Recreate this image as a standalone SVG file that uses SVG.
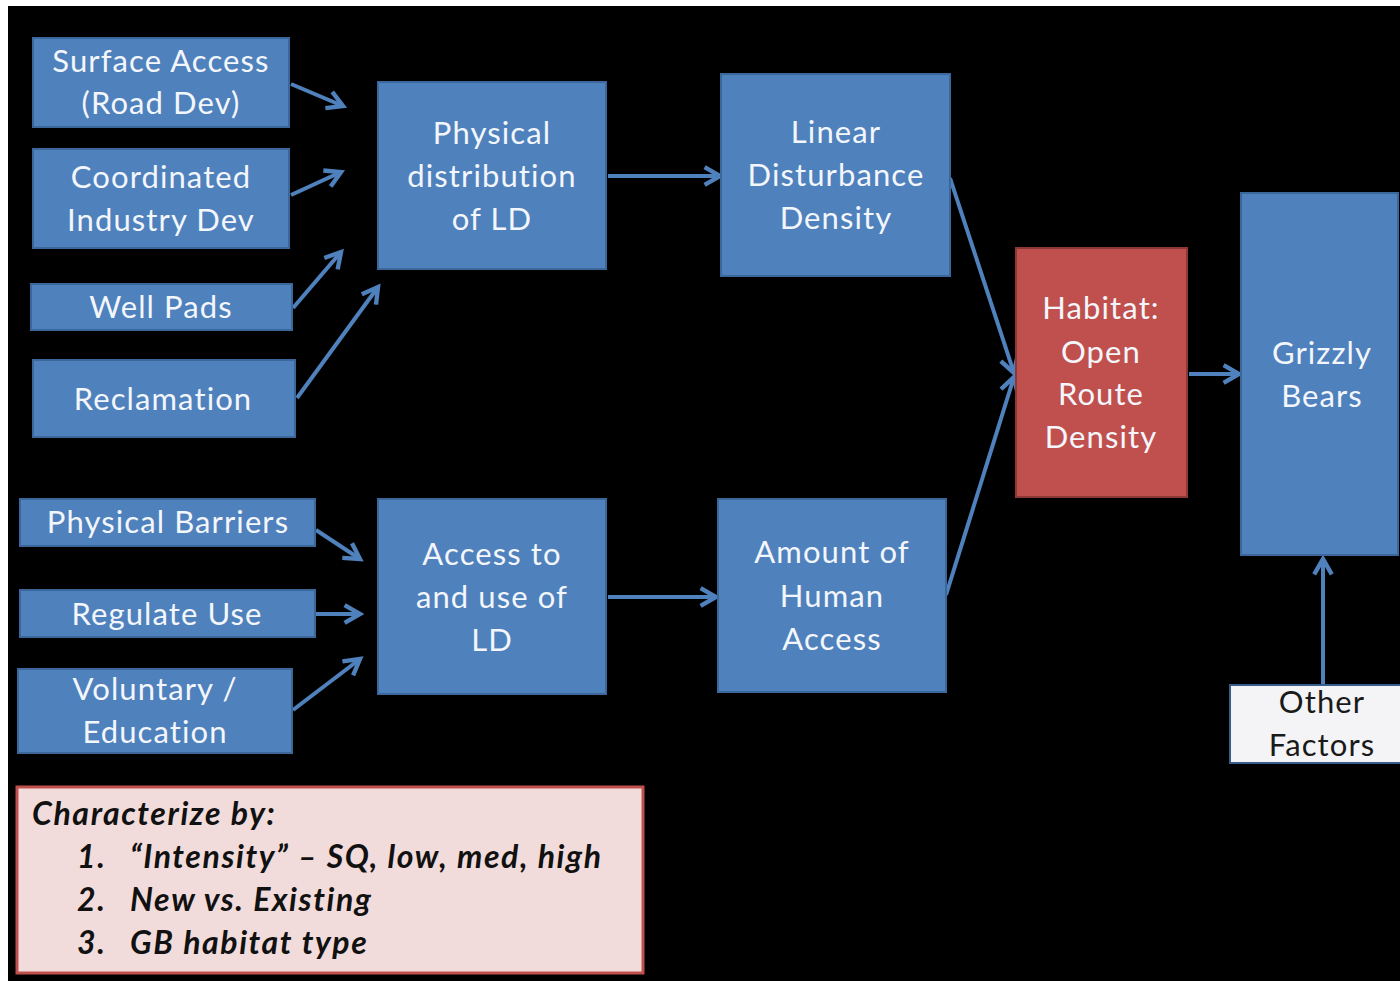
<svg xmlns="http://www.w3.org/2000/svg" width="1400" height="981" viewBox="0 0 1400 981">
<defs>
<style>
.b{fill:#4f81bd;stroke:#3c679a;stroke-width:2}
.r{fill:#c0504d;stroke:#8c3836;stroke-width:2}
.w{fill:#f4f4f6;stroke:#385d8a;stroke-width:2}
.t{font-family:Lato,"Liberation Sans",sans-serif;font-size:31px;letter-spacing:1.1px;fill:#f3f6fb;text-anchor:middle}
.d{fill:#1a1a1a}
.c{font-family:Lato,"Liberation Sans",sans-serif;font-size:32px;letter-spacing:1.6px;font-weight:bold;font-style:italic;fill:#111}
.a{stroke:#4f81bd;stroke-width:4;fill:none;marker-end:url(#ah)}
</style>
<marker id="ah" viewBox="0 0 10 10" refX="8" refY="5" markerWidth="5.5" markerHeight="5.5" orient="auto" markerUnits="strokeWidth">
<path d="M1,1 L8,5 L1,9" fill="none" stroke="#4f81bd" stroke-width="2"/>
</marker>
</defs>
<rect x="0" y="0" width="1400" height="981" fill="#ffffff"/>
<rect x="8" y="6" width="1392" height="975" fill="#000000"/>

<g id="connectors">
<line class="a" x1="291" y1="84" x2="343" y2="106"/>
<line class="a" x1="291" y1="195" x2="341" y2="172"/>
<line class="a" x1="293" y1="308" x2="341" y2="252"/>
<line class="a" x1="297" y1="398" x2="378" y2="287"/>
<line class="a" x1="608" y1="176" x2="720" y2="176"/>
<line class="a" x1="950" y1="178" x2="1014" y2="373"/>
<line class="a" x1="946" y1="595" x2="1014" y2="377"/>
<line class="a" x1="1189" y1="374" x2="1239" y2="374"/>
<line class="a" x1="1323" y1="685" x2="1323" y2="559"/>
<line class="a" x1="316" y1="530" x2="360" y2="559"/>
<line class="a" x1="316" y1="614" x2="360" y2="614"/>
<line class="a" x1="293" y1="710" x2="360" y2="659"/>
<line class="a" x1="608" y1="597" x2="716" y2="597"/>
</g>

<g id="surface-access"><rect class="b" x="33" y="38" width="256" height="89"/>
<text class="t" x="161" y="72">Surface Access</text><text class="t" x="161" y="114">(Road Dev)</text></g>

<g id="coordinated-industry"><rect class="b" x="33" y="149" width="256" height="99"/>
<text class="t" x="161" y="188">Coordinated</text><text class="t" x="161" y="231">Industry Dev</text></g>

<g id="well-pads"><rect class="b" x="31" y="284" width="261" height="46"/>
<text class="t" x="161" y="318">Well Pads</text></g>

<g id="reclamation"><rect class="b" x="33" y="360" width="262" height="77"/>
<text class="t" x="163" y="410">Reclamation</text></g>

<g id="physical-distribution"><rect class="b" x="378" y="82" width="228" height="187"/>
<text class="t" x="492" y="144">Physical</text><text class="t" x="492" y="187">distribution</text><text class="t" x="492" y="230">of LD</text></g>

<g id="linear-disturbance"><rect class="b" x="721" y="74" width="229" height="202"/>
<text class="t" x="836" y="143">Linear</text><text class="t" x="836" y="186">Disturbance</text><text class="t" x="836" y="229">Density</text></g>

<g id="habitat"><rect class="r" x="1016" y="248" width="171" height="249"/>
<text class="t" x="1101" y="319">Habitat:</text><text class="t" x="1101" y="363">Open</text><text class="t" x="1101" y="405">Route</text><text class="t" x="1101" y="448">Density</text></g>

<g id="grizzly-bears"><rect class="b" x="1241" y="193" width="157" height="362"/>
<text class="t" x="1322" y="364">Grizzly</text><text class="t" x="1322" y="407">Bears</text></g>

<g id="physical-barriers"><rect class="b" x="20" y="499" width="295" height="47"/>
<text class="t" x="168" y="533">Physical Barriers</text></g>

<g id="regulate-use"><rect class="b" x="20" y="590" width="295" height="47"/>
<text class="t" x="167" y="625">Regulate Use</text></g>

<g id="voluntary-education"><rect class="b" x="18" y="669" width="274" height="84"/>
<text class="t" x="155" y="700">Voluntary /</text><text class="t" x="155" y="743">Education</text></g>

<g id="access-use"><rect class="b" x="378" y="499" width="228" height="195"/>
<text class="t" x="492" y="565">Access to</text><text class="t" x="492" y="608">and use of</text><text class="t" x="492" y="651">LD</text></g>

<g id="human-access"><rect class="b" x="718" y="499" width="228" height="193"/>
<text class="t" x="832" y="563">Amount of</text><text class="t" x="832" y="607">Human</text><text class="t" x="832" y="650">Access</text></g>

<g id="other-factors"><rect class="w" x="1230" y="685" width="172" height="78"/>
<text class="t d" x="1322" y="713">Other</text><text class="t d" x="1322" y="756">Factors</text></g>

<g id="characterize"><rect x="17" y="787" width="626" height="186" fill="#f2dcdb" stroke="#c0504d" stroke-width="3"/>
<text class="c" x="32" y="825">Characterize by:</text>
<text class="c" x="77" y="868">1.</text><text class="c" x="130" y="868">“Intensity” – SQ, low, med, high</text>
<text class="c" x="77" y="911">2.</text><text class="c" x="130" y="911">New vs. Existing</text>
<text class="c" x="77" y="954">3.</text><text class="c" x="130" y="954">GB habitat type</text>
</g>
</svg>
